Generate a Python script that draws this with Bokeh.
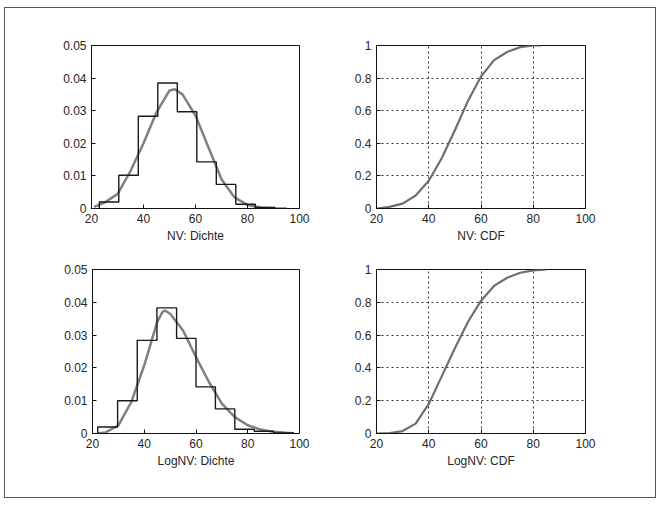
from bokeh.plotting import figure
from bokeh.layouts import column, row
from bokeh.models import Range1d, FixedTicker
from bokeh.embed import file_html
from bokeh.resources import INLINE

# ---- data ----
x_ticks = [20, 40, 60, 80, 100]
pdf_ticks = [0, 0.01, 0.02, 0.03, 0.04, 0.05]
pdf_tick_labels = ["0", "0.01", "0.02", "0.03", "0.04", "0.05"]
cdf_ticks = [0, 0.2, 0.4, 0.6, 0.8, 1]
cdf_tick_labels = ["0", "0.2", "0.4", "0.6", "0.8", "1"]

nv_edges = [23, 30.5, 38, 45.5, 53, 60.5, 68, 75.5, 83, 90.5]
nv_heights = [0.002, 0.0102, 0.0283, 0.0385, 0.0297, 0.0143, 0.0074, 0.0013, 0.0003]
nv_pdf_x = [21, 25, 30, 35, 40, 45, 50, 52, 55, 60, 65, 70, 75, 80, 85, 90, 95]
nv_pdf_y = [0.0005, 0.0018, 0.0044, 0.0115, 0.020, 0.0295, 0.0362, 0.0366, 0.035,
            0.0285, 0.0187, 0.009, 0.0034, 0.0011, 0.0003, 0.0001, 0.0]
nv_cdf_x = [20, 25, 30, 35, 40, 45, 50, 55, 60, 65, 70, 75, 80, 83]
nv_cdf_y = [0.0, 0.01, 0.03, 0.08, 0.17, 0.31, 0.48, 0.66, 0.81, 0.91, 0.96, 0.99, 1.0, 1.0]

lnv_edges = [22, 29.7, 37.3, 44.9, 52.5, 60, 67.5, 75, 82.5, 90, 97.5]
lnv_heights = [0.002, 0.0100, 0.0284, 0.0383, 0.029, 0.0142, 0.0075, 0.0013, 0.0007, 0.0002]
lnv_pdf_x = [22, 25, 30, 35, 40, 45, 47, 48, 50, 55, 60, 65, 70, 75, 80, 85, 90, 95, 98]
lnv_pdf_y = [0.0, 0.0003, 0.0025, 0.0096, 0.0208, 0.034, 0.037, 0.0375, 0.0365, 0.0314,
             0.0233, 0.0157, 0.0091, 0.005, 0.0025, 0.0012, 0.0005, 0.0002, 0.0001]
lnv_cdf_x = [20, 25, 30, 35, 40, 45, 50, 55, 60, 65, 70, 75, 80, 85]
lnv_cdf_y = [0.0, 0.003, 0.015, 0.06, 0.18, 0.35, 0.52, 0.68, 0.81, 0.9, 0.95, 0.98, 0.995, 1.0]

titles = ["NV: Dichte", "NV: CDF", "LogNV: Dichte", "LogNV: CDF"]

FONT = "Liberation Sans"
TXT = "#262626"


def make_fig(width, height, left, right, top, bottom, ymax, yticks, ylabels, label, grid):
    p = figure(width=width, height=height, output_backend="svg", toolbar_location=None,
               x_range=Range1d(20, 100), y_range=Range1d(0, ymax),
               min_border_left=left, min_border_right=right,
               min_border_top=top, min_border_bottom=bottom)
    p.outline_line_color = "#111111"
    p.outline_line_width = 1
    p.background_fill_color = "white"
    p.border_fill_color = "white"
    p.xaxis.ticker = FixedTicker(ticks=x_ticks)
    p.yaxis.ticker = FixedTicker(ticks=yticks)
    p.yaxis.major_label_overrides = {t: l for t, l in zip(yticks, ylabels)}
    p.xaxis.major_label_overrides = {t: str(t) for t in x_ticks}
    for ax in (p.xaxis, p.yaxis):
        ax.axis_line_color = "#111111"
        ax.major_tick_in = 4
        ax.major_tick_out = 0
        ax.minor_tick_line_color = None
        ax.major_tick_line_color = "#111111"
        ax.major_label_text_font = FONT
        ax.major_label_text_font_size = "12px"
        ax.major_label_text_color = TXT
        ax.major_label_standoff = 5
    p.xaxis.axis_label = label
    p.xaxis.axis_label_text_font = FONT
    p.xaxis.axis_label_text_font_size = "12px"
    p.xaxis.axis_label_text_font_style = "normal"
    p.xaxis.axis_label_text_color = TXT
    p.xaxis.axis_label_standoff = 3
    if grid:
        for g in (p.xgrid, p.ygrid):
            g.grid_line_color = "#333333"
            g.grid_line_dash = "2 3"
            g.grid_line_width = 1
        p.xgrid.ticker = FixedTicker(ticks=[40, 60, 80])
        p.ygrid.ticker = FixedTicker(ticks=[0.2, 0.4, 0.6, 0.8])
    else:
        p.xgrid.grid_line_color = None
        p.ygrid.grid_line_color = None
    return p


def add_hist(p, edges, heights):
    xs = [edges[0]] + list(edges)
    ys = [0] + list(heights) + [0]
    p.step(x=xs, y=ys, mode="after", line_color="#1a1a1a", line_width=1.4)


# top-left
p1 = make_fig(325, 242, 86, 31, 37, 42, 0.05, pdf_ticks, pdf_tick_labels, titles[0], False)
p1.line(nv_pdf_x, nv_pdf_y, line_color="#808080", line_width=2.5)
add_hist(p1, nv_edges, nv_heights)

# top-right
p2 = make_fig(325, 242, 46, 70, 37, 42, 1, cdf_ticks, cdf_tick_labels, titles[1], True)
p2.line(nv_cdf_x, nv_cdf_y, line_color="#6e6e6e", line_width=2.2)

# bottom-left
p3 = make_fig(325, 247, 87, 31, 19, 64, 0.05, pdf_ticks, pdf_tick_labels, titles[2], False)
p3.line(lnv_pdf_x, lnv_pdf_y, line_color="#808080", line_width=2.5)
add_hist(p3, lnv_edges, lnv_heights)

# bottom-right
p4 = make_fig(325, 247, 46, 70, 19, 64, 1, cdf_ticks, cdf_tick_labels, titles[3], True)
p4.line(lnv_cdf_x, lnv_cdf_y, line_color="#6e6e6e", line_width=2.2)

layout = column(row(p1, p2), row(p3, p4),
                styles={"outline": "1px solid #555555", "outline-offset": "0px",
                        "margin-left": "5px", "margin-top": "8px"})

open("out.html", "w").write(file_html(layout, INLINE))
